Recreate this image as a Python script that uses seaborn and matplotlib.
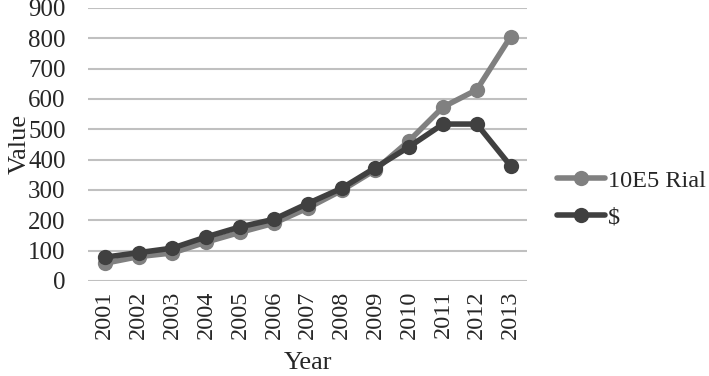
import matplotlib
matplotlib.use("Agg")
import matplotlib.pyplot as plt
import seaborn as sns
import pandas as pd

years = [2001, 2002, 2003, 2004, 2005, 2006, 2007, 2008, 2009, 2010, 2011, 2012, 2013]
rial = [58, 80, 92, 128, 160, 190, 240, 298, 366, 462, 573, 630, 805]
usd = [78, 93, 108, 145, 178, 203, 255, 305, 373, 442, 517, 517, 379]
series_names = ["10E5 Rial", "$"]
colors = ["#808080", "#404040"]

df = pd.DataFrame({
    "Year": years * 2,
    "Value": rial + usd,
    "Series": [series_names[0]] * len(years) + [series_names[1]] * len(years),
})

sns.set_theme(style="white")
plt.rcParams["font.family"] = ["Liberation Serif", "DejaVu Serif"]

fig = plt.figure(figsize=(7.09, 3.76), dpi=100)
ax = fig.add_axes([0.124, 0.253, 0.62, 0.726])

sns.lineplot(data=df, x="Year", y="Value", hue="Series", palette=colors,
             marker="o", markersize=11, markeredgewidth=0, linewidth=4,
             ax=ax, zorder=3)

ax.set_xlim(2000.5, 2013.5)
ax.set_ylim(0, 900)
ax.set_yticks(range(0, 901, 100))
ax.set_xticks(years)
ax.set_xticklabels([str(y) for y in years], rotation=90, fontsize=17.5)
ax.tick_params(axis="y", labelsize=18, length=0, pad=16)
ax.tick_params(axis="x", length=0, pad=7)
ax.grid(axis="y", color="#c0c0c0", linewidth=1.5, zorder=0)
ax.grid(axis="x", visible=False)
for s in ax.spines.values():
    s.set_visible(False)
ax.set_xlabel("Year", fontsize=19, labelpad=9)
ax.set_ylabel("Value", fontsize=19, labelpad=-2)

leg = ax.legend(loc="center left", bbox_to_anchor=(1.028, 0.30), frameon=False,
                fontsize=17.5, handlelength=2.0, labelspacing=0.6, handletextpad=0.1,
                borderaxespad=0.3)

fig.savefig("out.png", dpi=100)
